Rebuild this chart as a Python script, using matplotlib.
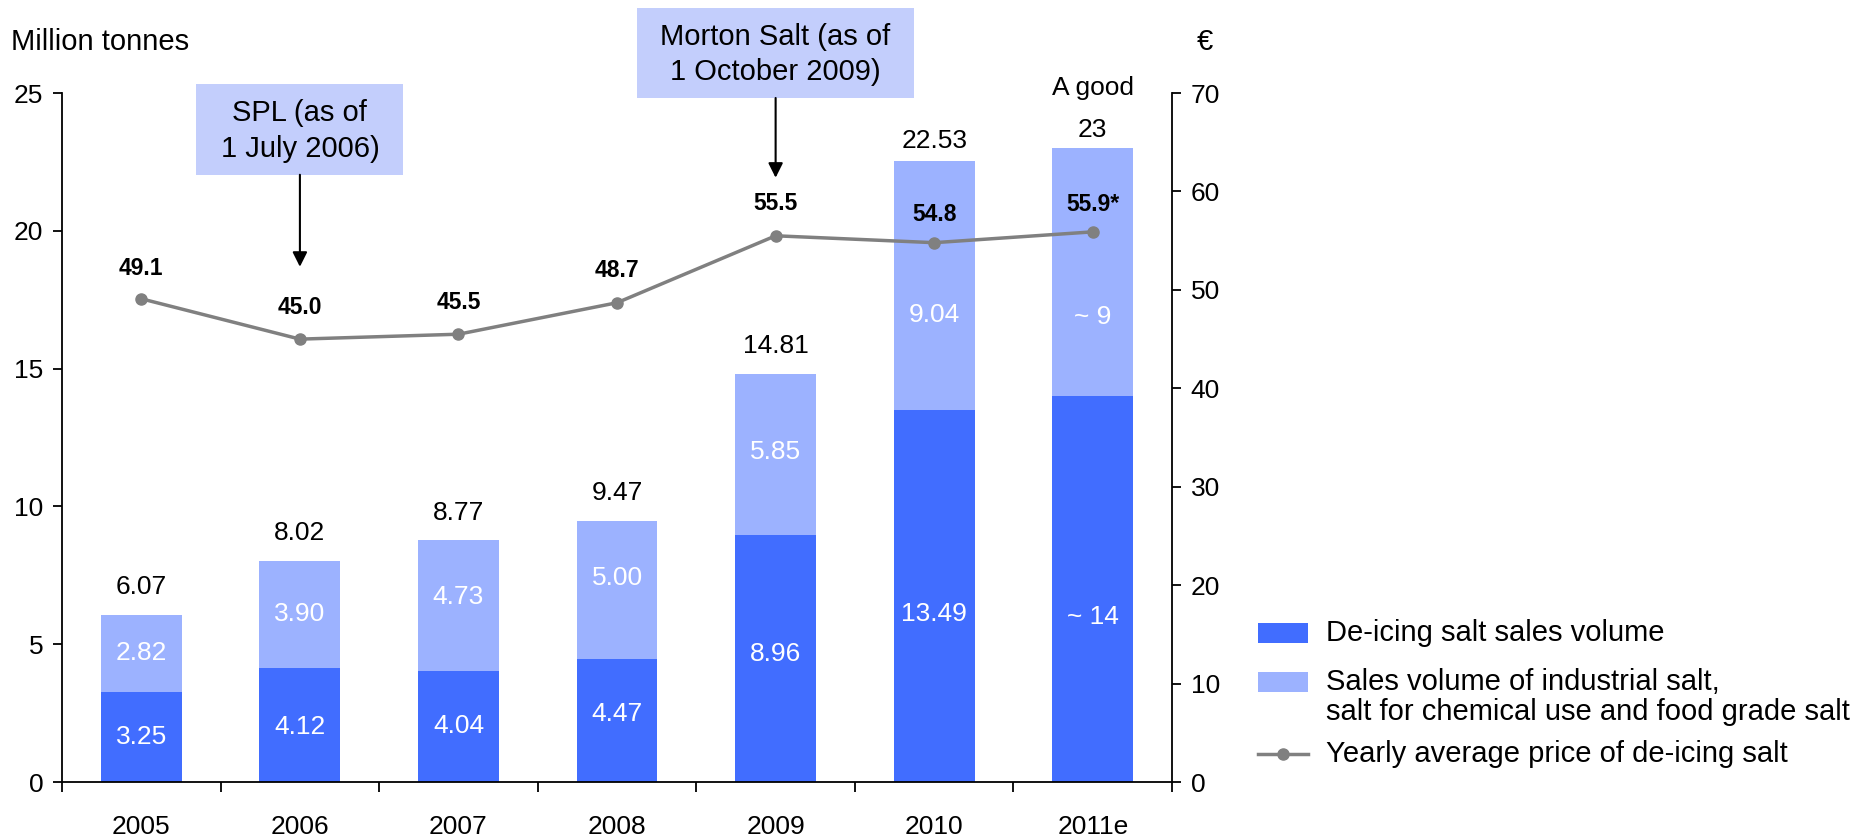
import numpy as np
import matplotlib.pyplot as plt
from matplotlib.patches import Rectangle
from matplotlib.lines import Line2D

plt.rcParams['font.family'] = ['Liberation Sans', 'DejaVu Sans']

years = ['2005', '2006', '2007', '2008', '2009', '2010', '2011e']
deicing = [3.25, 4.12, 4.04, 4.47, 8.96, 13.49, 14]
industrial = [2.82, 3.90, 4.73, 5.00, 5.85, 9.04, 9]
totals = [6.07, 8.02, 8.77, 9.47, 14.81, 22.53, 23]
price = [49.1, 45.0, 45.5, 48.7, 55.5, 54.8, 55.9]
estimate = [False, False, False, False, False, False, True]

leg_labels = ['De-icing salt sales volume',
              'Sales volume of industrial salt,\nsalt for chemical use and food grade salt',
              'Yearly average price of de-icing salt']

# layout: where the white numbers sit inside the bars (left axis units)
deicing_lab_y = [1.65, 2.01, 2.04, 2.46, 4.64, 6.09, 6.0]
industrial_lab_y = [4.70, 6.09, 6.7, 7.39, 11.97, 16.96, 16.86]
# offsets (pt) of the totals / prices above their marks
total_off = [20, 20, 20, 20, 20, 14.5, 13]
price_off = [22, 23, 23, 23, 23, 20, 19.5]

dark = '#416dff'
light = '#9cb2ff'
grey = '#808080'
boxc = '#c3cefc'
fs_num = 19
fs_txt = 21
fs_bold = 16.5
lw_ax = 1.3

W, H = 1869, 840
fig = plt.figure(figsize=(W / 100, H / 100), dpi=100)
ax = fig.add_axes([0.0332, 0.069, 0.5939, 0.8202])
x = np.arange(len(years))

ax.bar(x, deicing, 0.51, color=dark)
ax.bar(x, industrial, 0.51, bottom=deicing, color=light)
ax.set_xlim(-0.5, 6.5)
ax.set_ylim(0, 25)
ax.set_xticks(x)
ax.set_xticklabels(years)
ax.set_xticks(np.arange(-0.5, 7), minor=True)
ax.tick_params(axis='x', which='major', length=0, pad=24, labelsize=fs_num)
ax.tick_params(axis='x', which='minor', length=7, width=lw_ax)
ax.set_yticks(range(0, 26, 5))
ax.tick_params(axis='y', length=6.5, width=lw_ax, pad=7, labelsize=fs_num)
for s in ['top', 'right']:
    ax.spines[s].set_visible(False)
for s in ['left', 'bottom']:
    ax.spines[s].set_linewidth(lw_ax)

for i in range(len(years)):
    if estimate[i]:
        d_txt, i_txt, t_txt = '~ %.0f' % deicing[i], '~ %.0f' % industrial[i], '%.0f' % totals[i]
    else:
        d_txt, i_txt, t_txt = '%.2f' % deicing[i], '%.2f' % industrial[i], '%.2f' % totals[i]
    ax.text(x[i], deicing_lab_y[i], d_txt, ha='center', va='center', color='white', fontsize=fs_num)
    ax.text(x[i], industrial_lab_y[i], i_txt, ha='center', va='center', color='white', fontsize=fs_num)
    ax.annotate(t_txt, (x[i], totals[i]), xytext=(0, total_off[i]), textcoords='offset points',
                ha='center', va='center', fontsize=fs_num)
    if estimate[i]:
        ax.annotate('A good', (x[i], totals[i]), xytext=(0, 43), textcoords='offset points',
                    ha='center', va='center', fontsize=fs_num)

ax2 = ax.twinx()
ax2.set_ylim(0, 70)
ax2.set_yticks(range(0, 71, 10))
ax2.tick_params(axis='y', length=6.5, width=lw_ax, pad=7, labelsize=fs_num)
for s in ['top', 'left', 'bottom']:
    ax2.spines[s].set_visible(False)
ax2.spines['right'].set_linewidth(lw_ax)

ax2.plot(x, price, color=grey, lw=2.5, marker='o', ms=8)
for i in range(len(years)):
    lbl = '%.1f' % price[i] + ('*' if estimate[i] else '')
    ax2.annotate(lbl, (x[i], price[i]), xytext=(0, price_off[i]), textcoords='offset points',
                 ha='center', va='center', fontsize=fs_bold, fontweight='bold')

# acquisition call-outs: category, text, box width, box bottom/top, text line y's, arrow tip (price axis)
callouts = [
    (1, 'SPL (as of\n1 July 2006)', 1.305, 61.7, 70.9, [67.97, 64.32], 52.35),
    (4, 'Morton Salt (as of\n1 October 2009)', 1.75, 69.5, 78.6, [75.68, 72.13], 61.4),
]
for cx, txt, w, y0, y1, ly, tip in callouts:
    ax2.add_patch(Rectangle((cx - w / 2, y0), w, y1 - y0, facecolor=boxc,
                            edgecolor='none', clip_on=False, zorder=3))
    for line_txt, yy in zip(txt.split('\n'), ly):
        ax2.text(cx, yy, line_txt, ha='center', va='center', fontsize=fs_txt,
                 zorder=4, clip_on=False)
    ax2.annotate('', xy=(cx, tip), xytext=(cx, y0),
                 arrowprops=dict(arrowstyle='-|>', color='black', lw=1.5,
                                 mutation_scale=22, shrinkA=0, shrinkB=0))

fig.text(11 / W, 1 - 42 / H, 'Million tonnes', ha='left', va='center', fontsize=fs_txt)
fig.text(1197 / W, 1 - 42 / H, '€', ha='left', va='center', fontsize=fs_txt)

# legend, drawn by hand so the swatch lines up with the first text line
lx0, lx1, tx = 1258, 1308, 1326
entry_y = [633, 682, 754]
fig.add_artist(Rectangle((lx0 / W, 1 - (entry_y[0] + 10) / H), (lx1 - lx0) / W, 20 / H,
                         transform=fig.transFigure, facecolor=dark, edgecolor='none'))
fig.add_artist(Rectangle((lx0 / W, 1 - (entry_y[1] + 10) / H), (lx1 - lx0) / W, 20 / H,
                         transform=fig.transFigure, facecolor=light, edgecolor='none'))
fig.add_artist(Line2D([lx0 / W, lx1 / W], [1 - entry_y[2] / H] * 2, transform=fig.transFigure,
                      color=grey, lw=2.5))
fig.add_artist(Line2D([(lx0 + lx1) / 2 / W], [1 - entry_y[2] / H], transform=fig.transFigure,
                      color=grey, marker='o', ms=8))
for lab, yy in zip(leg_labels, entry_y):
    for k, part in enumerate(lab.split('\n')):
        fig.text(tx / W, 1 - (yy + 30 * k) / H, part, ha='left', va='center', fontsize=fs_txt)

fig.savefig('out.png', dpi=100)
